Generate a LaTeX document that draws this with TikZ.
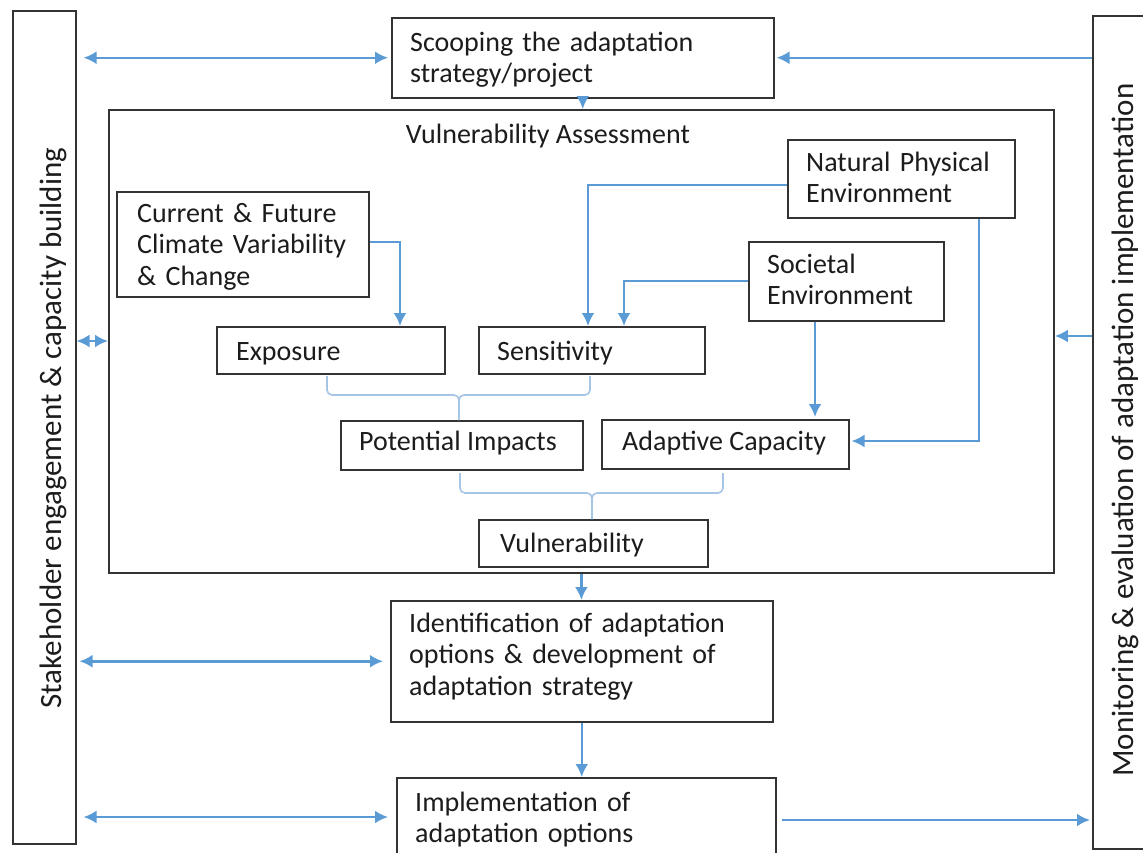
\documentclass[tikz,border=0pt]{standalone}
\usepackage{fontspec}
\setmainfont{Carlito}
\usetikzlibrary{arrows.meta}
\definecolor{arr}{HTML}{5B9BD5}
\definecolor{brk}{HTML}{A7C5E5}
\definecolor{ink}{HTML}{1C1C1C}
\definecolor{edge}{HTML}{333333}
\begin{document}
\begin{tikzpicture}[x=1pt,y=-1pt,
  box/.style={draw=edge, line width=1.5pt, anchor=north west, inner sep=0pt},
  txt/.style={anchor=base west, inner sep=0pt, text=ink, font=\fontsize{28}{31.5}\selectfont},
  mtxt/.style={txt, text width=360pt, align=left},
  vtxt/.style={anchor=base, inner sep=0pt, text=ink, rotate=90, font=\fontsize{31}{36}\selectfont},
  arw/.style={draw=arr, line width=2.5pt, -{Latex[length=13pt,width=13pt]}},
  darw/.style={draw=arr, line width=2.5pt, {Latex[length=13pt,width=13pt]}-{Latex[length=13pt,width=13pt]}},
  brace/.style={draw=brk, line width=1.6pt, rounded corners=5pt}]
\useasboundingbox (0,0) rectangle (1143,852);
\clip (0,0) rectangle (1143,852);
\fill[white] (0,0) rectangle (1143,852);

% outer side boxes
\node[box, minimum width=63pt, minimum height=833pt] (L) at (12,10) {};
\node[box, minimum width=90pt, minimum height=833pt] (R) at (1092,15) {};
\node[vtxt] (Lt) at (61,428) {Stakeholder engagement \& capacity building};
\node[vtxt] (Rt) at (1133,430) {Monitoring \& evaluation of adaptation implementation};

% main column boxes
\node[box, minimum width=382pt, minimum height=80pt] (scoop) at (391,17) {};
\node[mtxt] (scoopt) at (410,51) {Scooping the adaptation\\strategy/project};

\node[box, line width=1.8pt, minimum width=945pt, minimum height=463pt] (va) at (108,109) {};
\node[txt, anchor=base] (vat) at (548,143) {Vulnerability Assessment};

\node[box, minimum width=252pt, minimum height=105pt] (cf) at (116,191) {};
\node[mtxt] (cft) at (137,222) {Current \& Future\\Climate Variability\\\& Change};

\node[box, minimum width=227pt, minimum height=78pt] (npe) at (787,139) {};
\node[mtxt] (npet) at (806,171) {Natural Physical\\Environment};

\node[box, minimum width=195pt, minimum height=79pt] (se) at (748,241) {};
\node[mtxt] (set) at (767,273) {Societal\\Environment};

\node[box, minimum width=228pt, minimum height=47pt] (exp) at (216,326) {};
\node[txt] (expt) at (236,360) {Exposure};

\node[box, minimum width=226pt, minimum height=47pt] (sen) at (478,326) {};
\node[txt] (sent) at (497,360) {Sensitivity};

\node[box, minimum width=242pt, minimum height=49pt] (pi) at (340,420) {};
\node[txt] (pit) at (359,450) {Potential Impacts};

\node[box, minimum width=247pt, minimum height=49pt] (ac) at (601,419) {};
\node[txt] (act) at (622,450) {Adaptive Capacity};

\node[box, minimum width=229pt, minimum height=47pt] (vul) at (478,519) {};
\node[txt] (vult) at (500,552) {Vulnerability};

\node[box, minimum width=382pt, minimum height=121pt] (ident) at (390,600) {};
\node[mtxt] (identt) at (409,632) {Identification of adaptation\\options \& development of\\adaptation strategy};

\node[box, minimum width=379pt, minimum height=100pt] (impl) at (396,777) {};
\node[mtxt] (implt) at (415,811) {Implementation of\\adaptation options};

% stakeholder double arrows
\draw[darw] ([xshift=7pt]L.east |- scoop.west) -- ([xshift=-3pt]scoop.west);
\draw[darw] (L.east |- 0,341) -- (va.west |- 0,341);
\draw[darw] ([xshift=3pt]L.east |- ident.west) -- ([xshift=-7pt]ident.west);
\draw[darw] ([xshift=7pt]L.east |- 0,817) -- ([xshift=-8pt]impl.west |- 0,817);

% monitoring arrows
\draw[arw] (R.west |- scoop.east) -- ([xshift=2pt]scoop.east);
\draw[arw] (R.west |- 0,336) -- (va.east |- 0,336);
\draw[arw] ([xshift=5pt]impl.east |- 0,820) -- ([xshift=-2pt]R.west |- 0,820);

% main flow
\draw[arw] (scoop.south) -- (va.north -| scoop.south);
\draw[arw] (va.south) -- (ident.north -| va.south);
\draw[arw] (ident.south) -- (impl.north -| ident.south);

% inside vulnerability assessment
\draw[arw] (cf.east |- 0,242) -| (exp.north -| 400,0);
\draw[arw] (npe.west |- 0,185) -| (sen.north -| 588,0);
\draw[arw] (se.west |- 0,281) -| (sen.north -| 624,0);
\draw[arw] (se.south -| 815,0) -- ([yshift=2pt]ac.north -| 815,0);
\draw[arw] (npe.south -| 979,0) |- ([xshift=2pt]ac.east |- 0,441);

% braces
\draw[brace] (327,376) -- (327,395) -- (459,395) -- (pi.north -| 459,0);
\draw[brace] (590,376) -- (590,395) -- (459,395) -- (pi.north -| 459,0);
\draw[brace] (460,473) -- (460,493) -- (592,493) -- (vul.north -| 592,0);
\draw[brace] (723,473) -- (723,493) -- (592,493) -- (vul.north -| 592,0);
\end{tikzpicture}
\end{document}
